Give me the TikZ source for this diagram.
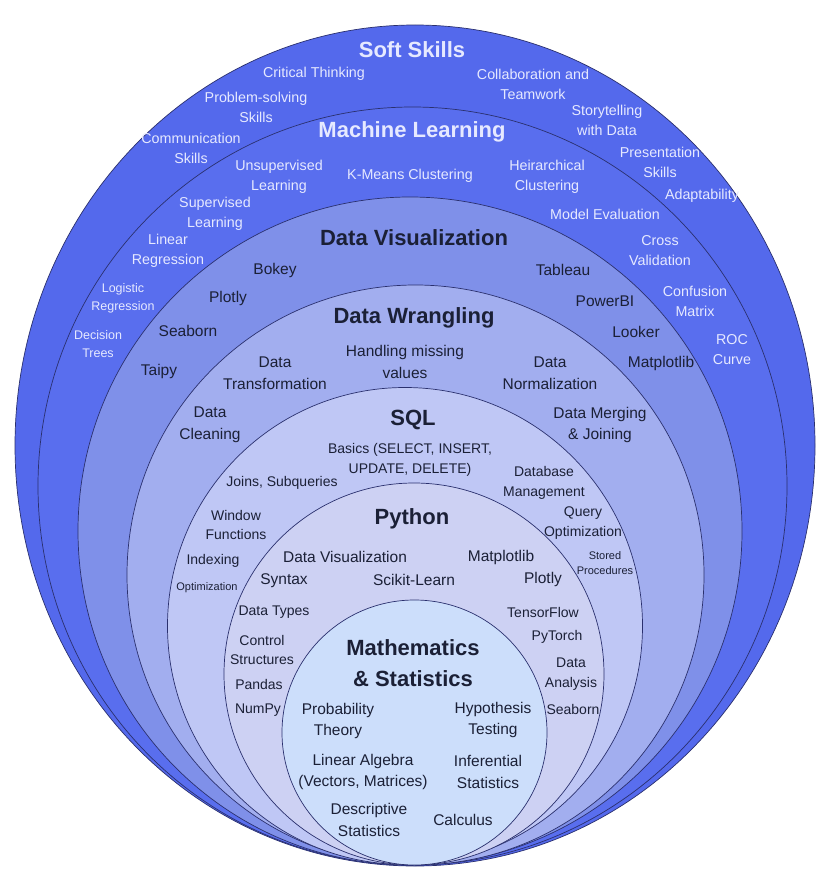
\documentclass[tikz,border=0pt]{standalone}
\usepackage{fontspec}
\setmainfont{Liberation Sans}
\definecolor{cSoft}{HTML}{5469EC}
\definecolor{cML}{HTML}{596EEE}
\definecolor{cDV}{HTML}{7F90E9}
\definecolor{cDW}{HTML}{A2AEEF}
\definecolor{cSQL}{HTML}{BFC7F5}
\definecolor{cPy}{HTML}{CDD1F3}
\definecolor{cMath}{HTML}{CCDEFB}
\definecolor{lineC}{HTML}{2A306E}
\definecolor{wtxt}{HTML}{E6E9FF}
\definecolor{dtxt}{HTML}{1B2036}
\tikzset{
  ring/.style={draw=lineC, line width=0.7pt},
  base/.style={align=center, inner sep=0pt},
  wt/.style={base, text=wtxt, font=\fontsize{14.3}{20}\selectfont},
  wts/.style={base, text=wtxt, font=\fontsize{12.5}{18}\selectfont},
  dt/.style={base, text=dtxt, font=\fontsize{15.5}{21.5}\selectfont},
  dtm/.style={base, text=dtxt, font=\fontsize{14}{19.5}\selectfont},
  dts/.style={base, text=dtxt, font=\fontsize{11}{15}\selectfont},
  wtitle/.style={base, text=wtxt, font=\fontsize{22}{26}\bfseries\selectfont},
  dtitle/.style={base, text=dtxt, font=\fontsize{22}{31}\bfseries\selectfont}
}
\begin{document}
\begin{tikzpicture}[x=1pt,y=-1pt]
\useasboundingbox (0,0) rectangle (828,872);
\fill[white] (0,0) rectangle (828,872);
% rings
\draw[ring, fill=cSoft] (415,445.5) ellipse [x radius=400pt, y radius=420.5pt];
\draw[ring, fill=cML] (412.5,486) ellipse [x radius=374.5pt, y radius=379pt];
\draw[ring, fill=cDV] (410,531) ellipse [x radius=332pt, y radius=334pt];
\draw[ring, fill=cDW] (415.5,575) ellipse [x radius=288.5pt, y radius=290pt];
\draw[ring, fill=cSQL] (405,626) ellipse [x radius=237.5pt, y radius=238.5pt];
\draw[ring, fill=cPy] (414,674) ellipse [x radius=190pt, y radius=191pt];
\draw[ring, fill=cMath] (414.5,732.5) ellipse [x radius=132.5pt, y radius=132.5pt];
% Soft skills
\node[wtitle] (tSoft) at (412,50) {Soft Skills};
\node[wt] (crit) at (314,74) {Critical Thinking};
\node[wt] (prob) at (256,107) {Problem-solving\\Skills};
\node[wt] (comm) at (191,148) {Communication\\Skills};
\node[wt] (coll) at (533,84) {Collaboration and\\Teamwork};
\node[wt] (story) at (607,120) {Storytelling\\with Data};
\node[wt] (pres) at (660,162) {Presentation\\Skills};
\node[wt] (adapt) at (702,196) {Adaptability};
% Machine learning
\node[wtitle] (tML) at (412,132) {Machine Learning};
\node[wt] (unsup) at (279,177) {Unsupervised\\Learning};
\node[wt] (kmeans) at (410,176) {K-Means Clustering};
\node[wt] (heir) at (547,177) {Heirarchical\\Clustering};
\node[wt] (sup) at (215,214) {Supervised\\Learning};
\node[wt] (model) at (605,214) {Model Evaluation};
\node[wt] (linreg) at (168,251) {Linear\\Regression};
\node[wt] (cross) at (660,251) {Cross\\Validation};
\node[wts] (logreg) at (123,298) {Logistic\\Regression};
\node[wt] (conf) at (695,301) {Confusion\\Matrix};
\node[wts] (dtree) at (98,344) {Decision\\Trees};
\node[wt] (roc) at (732,350) {ROC\\Curve};
% Data visualization
\node[dtitle] (tDV) at (414,238) {Data Visualization};
\node[dt] (bokey) at (275,270) {Bokey};
\node[dt] (tableau) at (563,270) {Tableau};
\node[dt] (plotlyA) at (228,298) {Plotly};
\node[dt] (powerbi) at (605,301) {PowerBI};
\node[dt] (seabornA) at (188,331) {Seaborn};
\node[dt] (looker) at (636,332) {Looker};
\node[dt] (taipy) at (159,371) {Taipy};
\node[dt] (matplotA) at (661,363) {Matplotlib};
% Data wrangling
\node[dtitle] (tDW) at (414,318) {Data Wrangling};
\node[dt] (handl) at (405,362) {Handling missing\\values};
\node[dt] (transf) at (275,373) {Data\\Transformation};
\node[dt] (norm) at (550,373) {Data\\Normalization};
\node[dt] (clean) at (210,425) {Data\\Cleaning};
\node[dt] (merge) at (600,425) {Data Merging\\\& Joining};
% SQL
\node[dtitle] (tSQL) at (413,420) {SQL};
\node[dtm] (basics) at (410,460) {Basics (SELECT, INSERT,\\UPDATE, DELETE)};
\node[dtm] (joins) at (282,483) {Joins, Subqueries};
\node[dtm] (dbm) at (544,483) {Database\\Management};
\node[dtm] (window) at (236,525) {Window\\Functions};
\node[dtm] (query) at (583,523) {Query\\Optimization};
\node[dtm] (index) at (213,561) {Indexing};
\node[dts] (stored) at (605,563) {Stored\\Procedures};
\node[dts] (optim) at (207,588) {Optimization};
% Python
\node[dtitle] (tPy) at (412,519) {Python};
\node[dt] (dvis) at (345,557) {Data Visualization};
\node[dt] (matplotB) at (501,557) {Matplotlib};
\node[dt] (syntax) at (284,581) {Syntax};
\node[dt] (scikit) at (414,580) {Scikit-Learn};
\node[dt] (plotlyB) at (543,579) {Plotly};
\node[dtm] (dtypes) at (274,612) {Data Types};
\node[dtm] (tensor) at (543,612) {TensorFlow};
\node[dtm] (control) at (262,650) {Control\\Structures};
\node[dtm] (torch) at (557,637) {PyTorch};
\node[dtm] (pandas) at (259,684) {Pandas};
\node[dtm] (danal) at (571,674) {Data\\Analysis};
\node[dtm] (numpy) at (258,710) {NumPy};
\node[dtm] (seabornB) at (573,709) {Seaborn};
% Mathematics
\node[dtitle] (tMath) at (413,663) {Mathematics\\\& Statistics};
\node[dt] (proba) at (338,721) {Probability\\Theory};
\node[dt] (hypo) at (493,720) {Hypothesis\\Testing};
\node[dt] (linalg) at (363,772) {Linear Algebra\\(Vectors, Matrices)};
\node[dt] (infer) at (488,772) {Inferential\\Statistics};
\node[dt] (descr) at (369,820) {Descriptive\\Statistics};
\node[dt] (calc) at (463,820) {Calculus};
\end{tikzpicture}
\end{document}
